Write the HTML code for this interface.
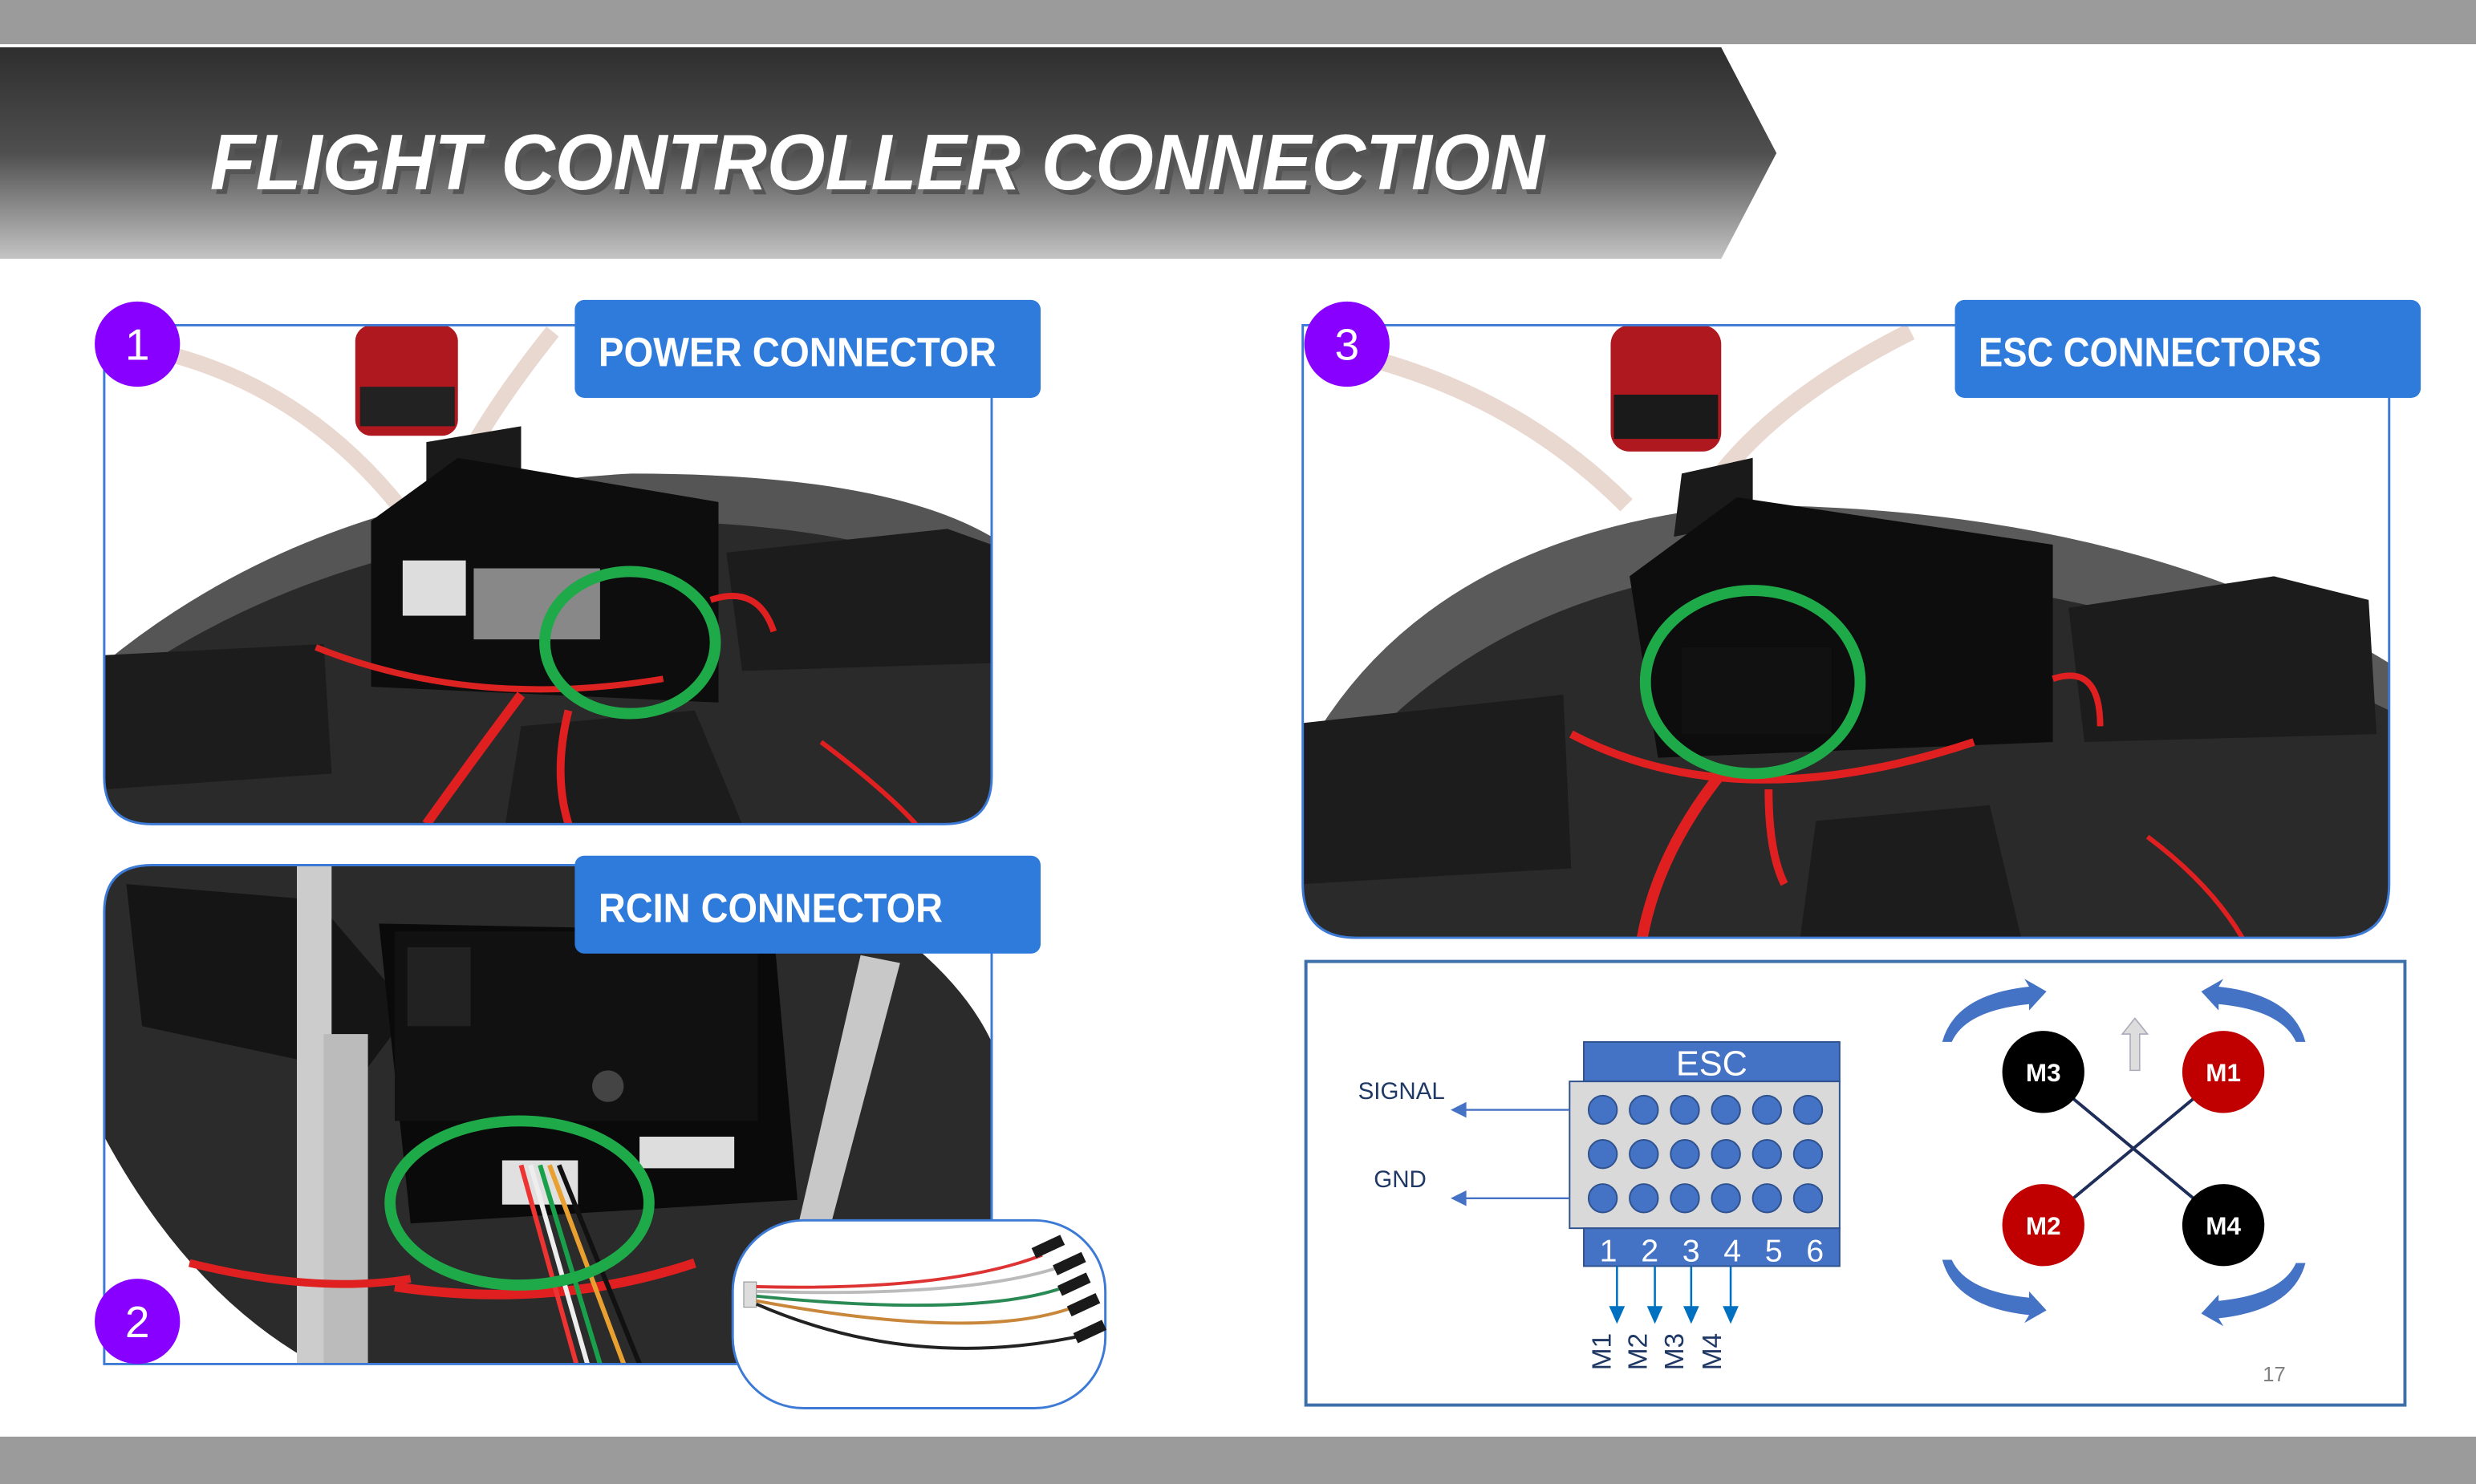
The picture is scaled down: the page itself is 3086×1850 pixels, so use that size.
<!DOCTYPE html>
<html><head><meta charset="utf-8"><style>
html,body{margin:0;padding:0;background:#fff;}
svg{display:block;}
text{font-family:"Liberation Sans","DejaVu Sans",sans-serif;}
</style></head><body>
<svg width="3086" height="1850" viewBox="0 0 1568 940" preserveAspectRatio="none" xmlns="http://www.w3.org/2000/svg">
<defs>
<linearGradient id="hdr" x1="0" y1="0" x2="0" y2="1">
<stop offset="0" stop-color="#2e2e2e"/><stop offset="0.5" stop-color="#4f4f4f"/><stop offset="1" stop-color="#c4c4c4"/>
</linearGradient>
<clipPath id="c1"><path d="M66 206 H628 V492 Q628 522 598 522 H96 Q66 522 66 492 Z"/></clipPath>
<clipPath id="c2"><path d="M96 548 H628 V864 H66 V578 Q66 548 96 548 Z"/></clipPath>
<clipPath id="c3"><path d="M825 206 H1513 V560 Q1513 594 1479 594 H859 Q825 594 825 560 Z"/></clipPath>
</defs>
<rect width="1568" height="940" fill="#fff"/>
<rect x="0" y="0" width="1568" height="28" fill="#9b9b9b"/>
<rect x="0" y="910" width="1568" height="30" fill="#9b9b9b"/>
<polygon points="0,30 1090,30 1125,97 1090,164 0,164" fill="url(#hdr)"/>
<text x="133" y="120" font-size="50" font-weight="bold" font-style="italic" fill="#555" textLength="845" lengthAdjust="spacingAndGlyphs" transform="translate(3,3)">FLIGHT CONTROLLER CONNECTION</text>
<text x="133" y="120" font-size="50" font-weight="bold" font-style="italic" fill="#fff" textLength="845" lengthAdjust="spacingAndGlyphs">FLIGHT CONTROLLER CONNECTION</text>

<!-- Panel 1 -->
<g clip-path="url(#c1)">
<rect x="66" y="206" width="562" height="316" fill="#fff"/>
<path d="M110 225 Q200 250 260 330" stroke="#e8d8d0" stroke-width="10" fill="none"/>
<path d="M350 210 Q310 260 290 300" stroke="#e8d8d0" stroke-width="10" fill="none"/>
<path d="M66 420 Q200 310 400 300 Q560 300 628 340 V522 H66 Z" fill="#555"/>
<path d="M66 440 Q200 340 400 330 Q540 330 628 370 V522 H66 Z" fill="#2a2a2a"/>
<rect x="225" y="206" width="65" height="70" rx="10" fill="#b01820"/>
<rect x="228" y="245" width="60" height="25" fill="#222"/>
<polygon points="270,280 330,270 330,300 270,310" fill="#1a1a1a"/>
<polygon points="235,330 290,290 455,318 455,445 235,435" fill="#0d0d0d"/>
<rect x="255" y="355" width="40" height="35" fill="#ddd"/>
<rect x="300" y="360" width="80" height="45" fill="#888"/>
<polygon points="66,415 205,408 210,490 66,500" fill="#1c1c1c"/>
<polygon points="460,350 600,335 628,345 628,420 470,425" fill="#1c1c1c"/>
<polygon points="330,460 440,450 470,522 320,522" fill="#1c1c1c"/>
<path d="M200 410 Q300 450 420 430" stroke="#d22" stroke-width="4" fill="none"/>
<path d="M330 440 Q300 480 270 522" stroke="#e02020" stroke-width="6" fill="none"/>
<path d="M360 450 Q350 490 360 522" stroke="#e02020" stroke-width="5" fill="none"/>
<path d="M450 380 Q480 370 490 400" stroke="#e02020" stroke-width="4" fill="none"/>
<path d="M520 470 Q560 500 580 522" stroke="#e02020" stroke-width="3" fill="none"/>
</g>
<path d="M66 206 H628 V492 Q628 522 598 522 H96 Q66 522 66 492 Z" fill="none" stroke="#3c7ad6" stroke-width="1.5"/>
<ellipse cx="399" cy="407" rx="54" ry="45" fill="none" stroke="#1faa4a" stroke-width="7"/>

<!-- Panel 2 -->
<g clip-path="url(#c2)">
<rect x="66" y="548" width="562" height="316" fill="#2b2b2b"/>
<path d="M500 548 Q600 600 628 660 V548 Z" fill="#fff"/>
<path d="M66 720 Q120 820 200 864 H66 Z" fill="#fff"/>
<polygon points="80,560 200,570 260,640 230,680 90,650" fill="#151515"/>
<polygon points="240,585 490,590 505,760 260,775" fill="#0a0a0a"/>
<rect x="250" y="590" width="230" height="120" fill="#111"/>
<rect x="258" y="600" width="40" height="50" fill="#222"/>
<circle cx="385" cy="688" r="10" fill="#444"/>
<rect x="188" y="548" width="22" height="316" fill="#ccc"/>
<rect x="205" y="655" width="28" height="209" fill="#bbb"/>
<polygon points="545,605 570,610 525,780 505,778" fill="#c8c8c8"/>
<rect x="318" y="735" width="48" height="28" fill="#e0e0e0"/>
<rect x="405" y="720" width="60" height="20" fill="#ddd"/>
<path d="M120 800 Q200 820 260 810" stroke="#e02020" stroke-width="5" fill="none"/>
<path d="M250 815 Q350 830 440 800" stroke="#e02020" stroke-width="6" fill="none"/>
<path d="M330 738 L365 864" stroke="#e33" stroke-width="3"/>
<path d="M336 738 L372 864" stroke="#eee" stroke-width="3"/>
<path d="M342 738 L380 864" stroke="#19a04a" stroke-width="3"/>
<path d="M348 738 L395 864" stroke="#e8a030" stroke-width="3"/>
<path d="M354 738 L405 864" stroke="#111" stroke-width="3"/>
</g>
<path d="M96 548 H628 V864 H66 V578 Q66 548 96 548 Z" fill="none" stroke="#3c7ad6" stroke-width="1.5"/>
<ellipse cx="329" cy="762" rx="82" ry="52" fill="none" stroke="#1faa4a" stroke-width="7"/>

<!-- cable inset -->
<rect x="464" y="773" width="236" height="119" rx="45" fill="#fff" stroke="#3c7ad6" stroke-width="1.5"/>
<rect x="471" y="812" width="8" height="16" fill="#ddd" stroke="#999" stroke-width="0.6"/>
<path d="M479 815 Q600 818 660 795" stroke="#d33" stroke-width="2" fill="none"/>
<path d="M479 818 Q610 822 670 803" stroke="#bbb" stroke-width="2" fill="none"/>
<path d="M479 821 Q620 835 675 815" stroke="#2a8a55" stroke-width="2" fill="none"/>
<path d="M479 824 Q620 850 680 828" stroke="#c8873a" stroke-width="2" fill="none"/>
<path d="M479 826 Q580 870 690 845" stroke="#222" stroke-width="2" fill="none"/>
<g fill="#1a1a1a"><rect x="654" y="786" width="20" height="7" transform="rotate(-25 664 790)"/><rect x="667" y="797" width="20" height="7" transform="rotate(-25 677 800)"/><rect x="670" y="810" width="20" height="7" transform="rotate(-25 680 813)"/><rect x="676" y="823" width="20" height="7" transform="rotate(-25 686 826)"/><rect x="680" y="840" width="20" height="7" transform="rotate(-25 690 843)"/></g>

<!-- Panel 3 -->
<g clip-path="url(#c3)">
<rect x="825" y="206" width="688" height="388" fill="#fff"/>
<path d="M860 225 Q960 250 1030 320" stroke="#e8d8d0" stroke-width="11" fill="none"/>
<path d="M1210 210 Q1130 250 1090 300" stroke="#e8d8d0" stroke-width="11" fill="none"/>
<path d="M825 480 Q900 340 1100 320 Q1350 320 1513 420 V594 H825 Z" fill="#5a5a5a"/>
<path d="M825 520 Q920 380 1100 360 Q1330 360 1513 450 V594 H825 Z" fill="#2a2a2a"/>
<rect x="1020" y="206" width="70" height="80" rx="12" fill="#b01820"/>
<rect x="1022" y="250" width="66" height="28" fill="#1a1a1a"/>
<polygon points="1065,300 1110,290 1110,330 1060,340" fill="#1a1a1a"/>
<polygon points="1032,365 1100,315 1300,345 1300,470 1050,480" fill="#0d0d0d"/>
<rect x="1065" y="410" width="95" height="55" fill="#111"/>
<polygon points="825,458 990,440 995,550 825,560" fill="#1c1c1c"/>
<polygon points="1310,385 1440,365 1500,380 1505,465 1320,470" fill="#1c1c1c"/>
<polygon points="1150,520 1260,510 1280,594 1140,594" fill="#1c1c1c"/>
<path d="M995 465 Q1100 520 1250 470" stroke="#e02020" stroke-width="5" fill="none"/>
<path d="M1090 490 Q1050 540 1040 594" stroke="#e02020" stroke-width="7" fill="none"/>
<path d="M1120 500 Q1120 540 1130 560" stroke="#e02020" stroke-width="5" fill="none"/>
<path d="M1300 430 Q1330 420 1330 460" stroke="#e02020" stroke-width="4" fill="none"/>
<path d="M1360 530 Q1400 560 1420 594" stroke="#e02020" stroke-width="3" fill="none"/>
</g>
<path d="M825 206 H1513 V560 Q1513 594 1479 594 H859 Q825 594 825 560 Z" fill="none" stroke="#3c7ad6" stroke-width="1.5"/>
<ellipse cx="1110" cy="432" rx="68" ry="58" fill="none" stroke="#1faa4a" stroke-width="7"/>

<!-- labels -->
<rect x="364" y="190" width="295" height="62" rx="6" fill="#2f7bdb"/>
<text x="379" y="232" font-size="26" font-weight="bold" fill="#fff" textLength="252" lengthAdjust="spacingAndGlyphs">POWER CONNECTOR</text>
<rect x="364" y="542" width="295" height="62" rx="6" fill="#2f7bdb"/>
<text x="379" y="584" font-size="26" font-weight="bold" fill="#fff" textLength="218" lengthAdjust="spacingAndGlyphs">RCIN CONNECTOR</text>
<rect x="1238" y="190" width="295" height="62" rx="6" fill="#2f7bdb"/>
<text x="1253" y="232" font-size="26" font-weight="bold" fill="#fff" textLength="217" lengthAdjust="spacingAndGlyphs">ESC CONNECTORS</text>

<g font-size="28" fill="#fff" text-anchor="middle">
<circle cx="87" cy="218" r="27" fill="#8800ff"/><text x="87" y="228">1</text>
<circle cx="87" cy="837" r="27" fill="#8800ff"/><text x="87" y="847">2</text>
<circle cx="853" cy="218" r="27" fill="#8800ff"/><text x="853" y="228">3</text>
</g>

<!-- ESC diagram -->
<rect x="827" y="609" width="696" height="281" fill="#fff" stroke="#3d6fa8" stroke-width="2"/>
<rect x="1003" y="660" width="162" height="25" fill="#4472c4" stroke="#2f528f"/>
<text x="1084" y="681" font-size="22" fill="#fff" text-anchor="middle">ESC</text>
<rect x="994" y="685" width="171" height="93" fill="#d9d9d9" stroke="#2f528f"/>
<g fill="#4472c4" stroke="#2f528f" stroke-width="1">
<circle cx="1015" cy="703" r="9"/><circle cx="1041" cy="703" r="9"/><circle cx="1067" cy="703" r="9"/><circle cx="1093" cy="703" r="9"/><circle cx="1119" cy="703" r="9"/><circle cx="1145" cy="703" r="9"/>
<circle cx="1015" cy="731" r="9"/><circle cx="1041" cy="731" r="9"/><circle cx="1067" cy="731" r="9"/><circle cx="1093" cy="731" r="9"/><circle cx="1119" cy="731" r="9"/><circle cx="1145" cy="731" r="9"/>
<circle cx="1015" cy="759" r="9"/><circle cx="1041" cy="759" r="9"/><circle cx="1067" cy="759" r="9"/><circle cx="1093" cy="759" r="9"/><circle cx="1119" cy="759" r="9"/><circle cx="1145" cy="759" r="9"/>
</g>
<rect x="1003" y="778" width="162" height="24" fill="#4472c4" stroke="#2f528f"/>
<text x="1084" y="799" font-size="20" fill="#fff" text-anchor="middle" textLength="142" lengthAdjust="spacing">1 2 3 4 5 6</text>
<g stroke="#0070c0" stroke-width="1.3" fill="#0070c0">
<line x1="1024" y1="802" x2="1024" y2="830"/><polygon points="1020,828 1028,828 1024,837"/>
<line x1="1048" y1="802" x2="1048" y2="830"/><polygon points="1044,828 1052,828 1048,837"/>
<line x1="1071" y1="802" x2="1071" y2="830"/><polygon points="1067,828 1075,828 1071,837"/>
<line x1="1096" y1="802" x2="1096" y2="830"/><polygon points="1092,828 1100,828 1096,837"/>
</g>
<g font-size="17" fill="#1f3864">
<text transform="translate(1020,868) rotate(-90)">M1</text>
<text transform="translate(1043,868) rotate(-90)">M2</text>
<text transform="translate(1066,868) rotate(-90)">M3</text>
<text transform="translate(1090,868) rotate(-90)">M4</text>
</g>
<text x="860" y="696" font-size="15" fill="#1f3864">SIGNAL</text>
<text x="870" y="752" font-size="15" fill="#1f3864">GND</text>
<g stroke="#4472c4" stroke-width="1.2" fill="#4472c4">
<line x1="994" y1="703" x2="926" y2="703"/><polygon points="928,699 928,707 920,703"/>
<line x1="994" y1="759" x2="926" y2="759"/><polygon points="928,755 928,763 920,759"/>
</g>
<line x1="1313" y1="696" x2="1389" y2="759" stroke="#1f2d5a" stroke-width="2"/>
<line x1="1389" y1="696" x2="1313" y2="759" stroke="#1f2d5a" stroke-width="2"/>
<polygon points="1349,678 1355,678 1355,655 1360,655 1352,645 1344,655 1349,655" fill="#ddd" stroke="#aab" stroke-width="0.8"/>
<g font-size="16" font-weight="bold" fill="#fff" text-anchor="middle">
<circle cx="1294" cy="679" r="26" fill="#000"/><text x="1294" y="685">M3</text>
<circle cx="1408" cy="679" r="26" fill="#c00000"/><text x="1408" y="685">M1</text>
<circle cx="1294" cy="776" r="26" fill="#c00000"/><text x="1294" y="782">M2</text>
<circle cx="1408" cy="776" r="26" fill="#000"/><text x="1408" y="782">M4</text>
</g>
<g fill="#4472c4">
<path d="M1230 660 Q1238 630 1285 625 L1282 620 L1296 628 L1285 640 L1285 636 Q1245 640 1236 660 Z"/>
<path d="M1460 660 Q1452 630 1405 625 L1408 620 L1394 628 L1405 640 L1405 636 Q1445 640 1454 660 Z"/>
<path d="M1230 798 Q1238 828 1285 833 L1282 838 L1296 830 L1285 818 L1285 822 Q1245 818 1236 798 Z"/>
<path d="M1460 800 Q1452 830 1405 835 L1408 840 L1394 832 L1405 820 L1405 824 Q1445 820 1454 800 Z"/>
</g>
<text x="1433" y="875" font-size="13" fill="#808080">17</text>
</svg>
</body></html>
